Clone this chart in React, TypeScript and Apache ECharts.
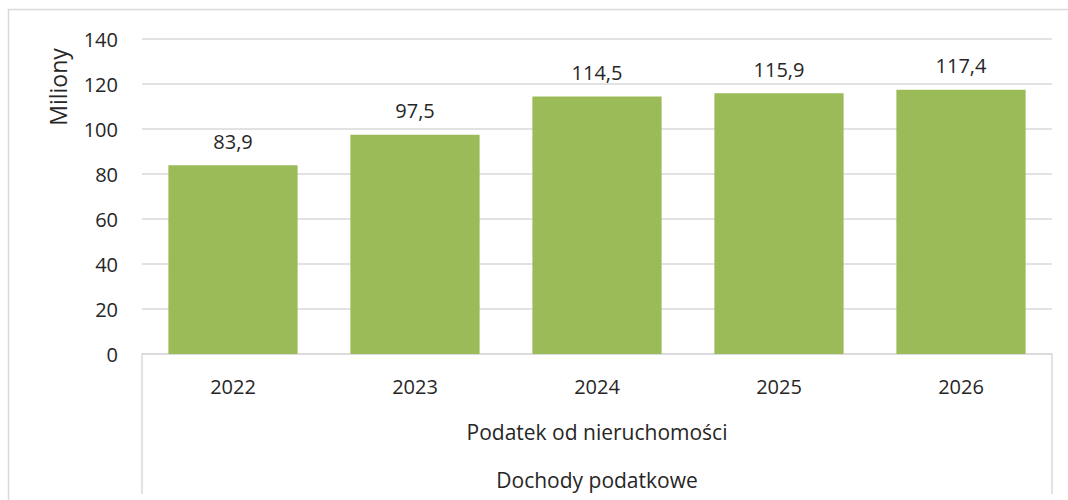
import React, { useEffect, useRef } from "react";
import * as echarts from "echarts";

const categories = ["2022", "2023", "2024", "2025", "2026"];
const values = [83.9, 97.5, 114.5, 115.9, 117.4];
const level2Label = "Podatek od nieruchomości";
const level3Label = "Dochody podatkowe";
const yAxisName = "Miliony";

const FONT = "'Open Sans', 'Liberation Sans', sans-serif";
const TXT = "#262626";
const GRID = "#d9d9d9";

const W = 1068;
const H = 500;
const L = 142;
const R = 1052;
const T = 39;
const B = 354;

export default function App() {
  const ref = useRef<HTMLDivElement>(null);
  useEffect(() => {
    if (!ref.current) return;
    const chart = echarts.init(ref.current, undefined, { renderer: "svg" });
    chart.setOption({
      animation: false,
      backgroundColor: "#ffffff",
      textStyle: { fontFamily: FONT },
      grid: { left: L, right: W - R, top: T, bottom: H - B, containLabel: false },
      xAxis: {
        type: "category",
        data: categories,
        axisLine: { show: true, lineStyle: { color: GRID, width: 1.5 } },
        axisTick: { show: false },
        axisLabel: { color: TXT, fontSize: 20, fontFamily: FONT, margin: 22 },
      },
      yAxis: {
        type: "value",
        min: 0,
        max: 140,
        interval: 20,
        axisLine: { show: false },
        axisTick: { show: false },
        axisLabel: { color: TXT, fontSize: 20, fontFamily: FONT, margin: 24 },
        splitLine: { lineStyle: { color: GRID, width: 1.5 } },
      },
      series: [
        {
          type: "bar",
          data: values,
          barWidth: "71%",
          itemStyle: { color: "#9bbb59" },
          label: {
            show: true,
            position: "top",
            distance: 14,
            color: TXT,
            fontSize: 20,
            fontFamily: FONT,
            formatter: (p: any) => String(p.value).replace(".", ","),
          },
        },
      ],
      graphic: [
        {
          type: "rect",
          shape: { x: 8.5, y: 9.5, width: 1200, height: 700 },
          style: { fill: "none", stroke: GRID, lineWidth: 1.5 },
          silent: true,
        },
        {
          type: "line",
          shape: { x1: L, y1: B, x2: L, y2: 494 },
          style: { stroke: GRID, lineWidth: 1.5 },
        },
        {
          type: "line",
          shape: { x1: R, y1: B, x2: R, y2: 494 },
          style: { stroke: GRID, lineWidth: 1.5 },
        },
        {
          type: "text",
          x: (L + R) / 2,
          y: 432,
          style: {
            text: level2Label,
            fill: TXT,
            fontSize: 21,
            fontFamily: FONT,
            textAlign: "center",
            textVerticalAlign: "middle",
          },
        },
        {
          type: "text",
          x: (L + R) / 2,
          y: 480,
          style: {
            text: level3Label,
            fill: TXT,
            fontSize: 21,
            fontFamily: FONT,
            textAlign: "center",
            textVerticalAlign: "middle",
          },
        },
        {
          type: "text",
          x: 58,
          y: 87,
          rotation: Math.PI / 2,
          style: {
            text: yAxisName,
            fill: TXT,
            fontSize: 23,
            fontFamily: FONT,
            textAlign: "center",
            textVerticalAlign: "middle",
          },
        },
      ],
    });
    return () => chart.dispose();
  }, []);
  return (
    <div
      ref={ref}
      style={{ position: "absolute", left: 0, top: 0, width: W, height: H }}
    />
  );
}
